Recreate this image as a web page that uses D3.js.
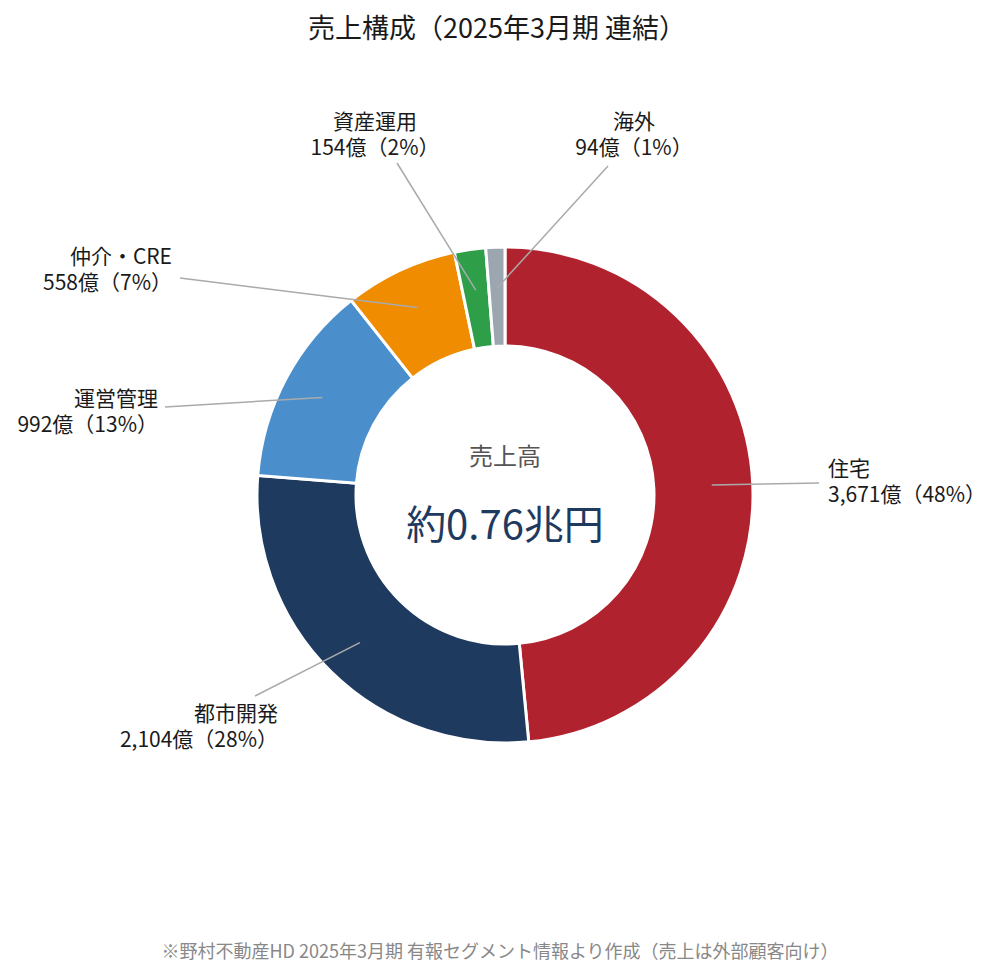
<!DOCTYPE html>
<html lang="ja">
<head>
<meta charset="utf-8">
<script src="https://cdn.jsdelivr.net/npm/d3@7"></script>
<style>
    html, body { margin: 0; padding: 0; background: #fff; }
    svg { display: block; font-family: "Noto Sans CJK JP", "Noto Sans", sans-serif; }
</style>
</head>
<body>
<svg id="chart"></svg>
<script>
// 売上構成 data (億円)
const segments = ['住宅', '都市開発', '運営管理', '仲介・CRE', '資産運用', '海外'];
const sales = [3671, 2104, 992, 558, 154, 94];
const shares = [48, 28, 13, 7, 2, 1];
const segmentColors = ['#b0232e', '#1f3a5f', '#4a8fcc', '#ef8c00', '#2e9e48', '#9ba6b1'];

// where each label sits (text anchor, line centres, leader end)
const labelLayout = [
    { anchor: 'start',  x: 828, y: 467, lx: 819, ly: 483 },
    { anchor: 'end',    x: 278, y: 712, lx: 255, ly: 696 },
    { anchor: 'end',    x: 158, y: 397, lx: 165, ly: 407 },
    { anchor: 'end',    x: 172, y: 255, lx: 180, ly: 278 },
    { anchor: 'middle', x: 375, y: 120, lx: 397, ly: 163 },
    { anchor: 'middle', x: 634, y: 120, lx: 608, ly: 166 }
];

const width = 1002, height = 973;
const cx = 505, cy = 495;
const outerR = 248, innerR = 149;

const svg = d3.select('#chart').attr('width', width).attr('height', height);

// Title
svg.append('text')
    .attr('x', 497)
    .attr('y', 26)
    .attr('text-anchor', 'middle')
    .attr('dominant-baseline', 'central')
    .attr('font-size', '27px')
    .attr('fill', '#1a1a1a')
    .text('売上構成（2025年3月期 連結）');

const data = segments.map((name, i) => ({ name, value: sales[i], share: shares[i], color: segmentColors[i], layout: labelLayout[i] }));

const pie = d3.pie().value(d => d.value).sort(null);
const arc = d3.arc().innerRadius(innerR).outerRadius(outerR);
const leaderR = 207;

const g = svg.append('g').attr('transform', `translate(${cx},${cy})`);

g.selectAll('.slice')
    .data(pie(data))
    .enter()
    .append('path')
    .attr('class', 'slice')
    .attr('d', arc)
    .attr('fill', d => d.data.color)
    .attr('stroke', '#fff')
    .attr('stroke-width', 3);

// Leader lines
g.selectAll('.leader')
    .data(pie(data))
    .enter()
    .append('line')
    .attr('class', 'leader')
    .attr('x1', d => leaderR * Math.sin((d.startAngle + d.endAngle) / 2))
    .attr('y1', d => -leaderR * Math.cos((d.startAngle + d.endAngle) / 2))
    .attr('x2', d => d.data.layout.lx - cx)
    .attr('y2', d => d.data.layout.ly - cy)
    .attr('stroke', '#aaaaaa')
    .attr('stroke-width', 1.5);

// Labels
const fmt = d3.format(',');
const labels = svg.selectAll('.label')
    .data(data)
    .enter()
    .append('text')
    .attr('class', 'label')
    .attr('text-anchor', d => d.layout.anchor)
    .attr('font-size', '21px')
    .attr('fill', '#1a1a1a');

labels.append('tspan')
    .attr('x', d => d.layout.x)
    .attr('y', d => d.layout.y)
    .attr('dominant-baseline', 'central')
    .text(d => d.name);

labels.append('tspan')
    .attr('x', d => d.layout.x)
    .attr('y', d => d.layout.y + 26)
    .attr('dominant-baseline', 'central')
    .text(d => `${fmt(d.value)}億（${d.share}%）`);

// Centre text
svg.append('text')
    .attr('x', cx)
    .attr('y', 454)
    .attr('text-anchor', 'middle')
    .attr('dominant-baseline', 'central')
    .attr('font-size', '24px')
    .attr('fill', '#555')
    .text('売上高');

svg.append('text')
    .attr('x', cx)
    .attr('y', 522)
    .attr('text-anchor', 'middle')
    .attr('dominant-baseline', 'central')
    .attr('font-size', '40px')
    .attr('fill', '#1f3a5f')
    .text('約0.76兆円');

// Footnote
svg.append('text')
    .attr('x', 500)
    .attr('y', 950)
    .attr('text-anchor', 'middle')
    .attr('dominant-baseline', 'central')
    .attr('font-size', '18px')
    .attr('fill', '#888')
    .text('※野村不動産HD 2025年3月期 有報セグメント情報より作成（売上は外部顧客向け）');
</script>
</body>
</html>
